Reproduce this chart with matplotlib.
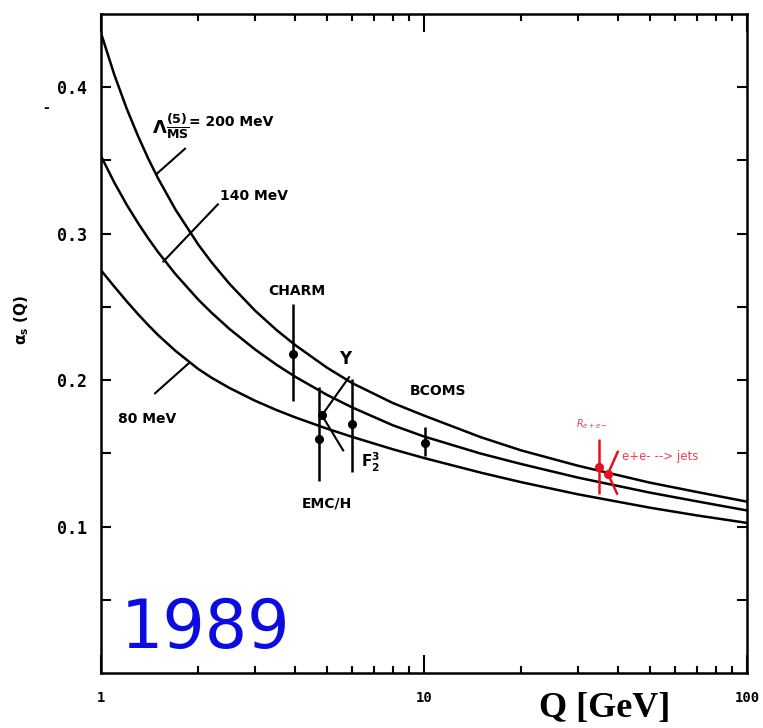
import numpy as np
import matplotlib.pyplot as plt
from matplotlib.ticker import FixedLocator, FixedFormatter, NullFormatter

# running coupling curves
q_grid = [1, 1.1, 1.2, 1.3, 1.4, 1.5, 1.7, 2, 2.2, 2.5, 3, 3.5, 4, 5, 6, 8,
          10, 15, 20, 30, 50, 70, 100]
alpha_200 = [0.437, 0.4084, 0.3856, 0.3670, 0.3513, 0.3380, 0.3165, 0.2926, 0.2804, 0.2657,
             0.2474, 0.2341, 0.2238, 0.2086, 0.1979, 0.1844,
             0.1758, 0.161, 0.152, 0.1415, 0.130, 0.1236, 0.117]
alpha_140 = [0.353, 0.3348, 0.3199, 0.3075, 0.2968, 0.2876, 0.2724, 0.2550, 0.2460, 0.2349,
             0.2209, 0.2104, 0.2022, 0.1900, 0.1813, 0.1692,
             0.1615, 0.1498, 0.1427, 0.1334, 0.1232, 0.1172, 0.111]
alpha_80 = [0.275, 0.2638, 0.2539, 0.2452, 0.2376, 0.2309, 0.2200, 0.2076, 0.2016, 0.1946,
            0.1859, 0.1795, 0.1745, 0.1669, 0.1612, 0.1528,
            0.1468, 0.1368, 0.1303, 0.1220, 0.1129, 0.1076, 0.1025]

# measurements
exp_names = ['CHARM', 'EMC/H', 'Upsilon', 'F2', 'BCDMS', 'Ree', 'jets']
exp_q = [3.93, 4.73, 4.83, 5.98, 10.1, 34.8, 37.1]
exp_alpha = [0.218, 0.160, 0.176, 0.170, 0.157, 0.141, 0.136]
exp_err_up = [0.034, 0.035, 0.0, 0.031, 0.011, 0.019, 0.0]
exp_err_dn = [0.032, 0.029, 0.0, 0.033, 0.009, 0.0185, 0.0]
exp_color = ['k', 'k', 'k', 'k', 'k', '#e8101e', '#e8101e']

y_major = [0.1, 0.2, 0.3, 0.4]
y_major_labels = ['0.1', '0.2', '0.3', '0.4']
y_minor = [0.05, 0.15, 0.25, 0.35]

fig = plt.figure(figsize=(7.63, 7.28), dpi=100)
ax = fig.add_axes([101/763, 1-673/728, 646/763, 659/728])
ax.set_xscale('log')
ax.set_xlim(1, 100)
ax.set_ylim(0, 0.45)

for vals in (alpha_200, alpha_140, alpha_80):
    ax.plot(q_grid, vals, color='k', lw=1.8, solid_capstyle='round', solid_joinstyle='round')

for i in range(len(exp_q)):
    ax.errorbar(exp_q[i], exp_alpha[i], yerr=[[exp_err_dn[i]], [exp_err_up[i]]],
                fmt='o', ms=5.5, color=exp_color[i], ecolor=exp_color[i], elinewidth=1.8,
                capsize=0, zorder=4)

# leader lines of the labels
lead = dict(color='k', lw=1.5)
ax.plot([1.82, 1.49], [0.358, 0.341], **lead)
ax.plot([2.30, 1.56], [0.320, 0.281], **lead)
ax.plot([1.47, 1.88], [0.191, 0.212], **lead)
ax.plot([5.86, 4.83, 5.62], [0.202, 0.176, 0.152], **lead)
ax.plot([39.8, 37.1, 39.6], [0.151, 0.136, 0.1225], color='#e8101e', lw=1.8)

lab = dict(fontsize=10, fontweight='bold', family='DejaVu Sans')
ax.text(1.44, 0.373, r'$\mathbf{\Lambda^{(5)}_{\overline{MS}}}$', ha='left', va='center', fontsize=13)
ax.text(1.87, 0.376, '= 200 MeV', ha='left', va='center', **lab)
ax.text(2.34, 0.3256, '140 MeV', ha='left', va='center', **lab)
ax.text(1.13, 0.1736, '80 MeV', ha='left', va='center', **lab)
ax.text(4.05, 0.261, 'CHARM', ha='center', va='center', **lab)
ax.text(5.70, 0.2145, 'Υ', ha='center', va='center', fontsize=12, fontweight='bold')
ax.text(5.01, 0.1157, 'EMC/H', ha='center', va='center', **lab)
ax.text(6.38, 0.144, r'$\mathbf{F_2^3}$', ha='left', va='center', fontsize=11)
ax.text(11.04, 0.1927, 'BCOMS', ha='center', va='center', **lab)
ax.text(33.1, 0.170, r'$R_{e+e-}$', ha='center', va='center', fontsize=7, color='#ee4050')
ax.text(41.1, 0.148, 'e+e- --> jets', ha='left', va='center', fontsize=8.5, color='#ee4050')

ax.text(0.031, 0.038, '1989', transform=ax.transAxes, fontsize=48, color='#0c0ce0',
        ha='left', va='baseline')

ax.yaxis.set_major_locator(FixedLocator(y_major))
ax.yaxis.set_major_formatter(FixedFormatter(y_major_labels))
ax.yaxis.set_minor_locator(FixedLocator(y_minor))
ax.yaxis.set_minor_formatter(NullFormatter())
ax.xaxis.set_major_locator(FixedLocator([1, 10, 100]))
ax.xaxis.set_major_formatter(FixedFormatter(['1', '10', '100']))
ax.xaxis.set_minor_formatter(NullFormatter())

ax.tick_params(which='both', direction='in', top=True, right=True, width=1.5)
ax.tick_params(axis='y', which='both', length=7, pad=10)
ax.tick_params(axis='x', which='major', length=13, pad=13)
ax.tick_params(axis='x', which='minor', length=5)
for t in ax.get_yticklabels() + ax.get_xticklabels():
    t.set_fontfamily('DejaVu Sans Mono')
    t.set_fontweight('bold')
for t in ax.get_yticklabels():
    t.set_fontsize(12)
for t in ax.get_xticklabels():
    t.set_fontsize(10)
for s in ax.spines.values():
    s.set_linewidth(1.8)

fig.text(22/763, 1-320/728, r'$\mathbf{\alpha_s}$ (Q)', rotation=90, ha='center', va='center',
         fontsize=11, fontweight='bold')
fig.text(46/763, 1-108/728, '-', ha='center', va='center', fontsize=10, fontweight='bold')
fig.text(605/763, 1-708/728, 'Q [GeV]', ha='center', va='center', fontsize=26,
         fontweight='bold', family='Liberation Serif')

fig.savefig('out.png', dpi=100)
